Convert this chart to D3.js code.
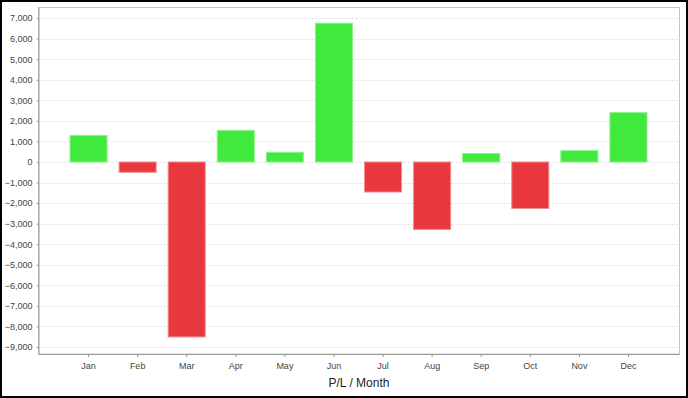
<!DOCTYPE html>
<html>
<head>
<meta charset="utf-8">
<script src="https://cdn.jsdelivr.net/npm/d3@7"></script>
<style>
  body { margin: 0; background: #fff; }
  svg { display: block; font-family: "Liberation Sans", Arial, sans-serif; }
</style>
</head>
<body>
<svg></svg>
<script>
var months = ["Jan", "Feb", "Mar", "Apr", "May", "Jun",
              "Jul", "Aug", "Sep", "Oct", "Nov", "Dec"];
var profit = [1290, -500, -8510, 1540, 470, 6750,
              -1460, -3280, 410, -2260, 555, 2400];
var yTicks = [7000, 6000, 5000, 4000, 3000, 2000, 1000, 0,
              -1000, -2000, -3000, -4000, -5000, -6000, -7000, -8000, -9000];
var yExtent = [-9340, 7515];

// plot area (window.top is reserved, so no bare "top")
var w = 688,
    h = 398,
    plotLeft = 38.5,
    plotRight = 679.5,
    plotTop = 7.5,
    plotBottom = 354;

var svg = d3.select("svg")
    .attr("width", w)
    .attr("height", h);

// outer frame
svg.append("rect")
    .attr("x", 1).attr("y", 1)
    .attr("width", w - 2).attr("height", h - 2)
    .attr("fill", "#fff")
    .attr("stroke", "#000")
    .attr("stroke-width", 2);

var x = d3.scaleBand()
    .domain(months)
    .range([plotLeft + 25.5, plotRight - 26.5])
    .paddingInner(0.245)
    .paddingOuter(0.1225);

var y = d3.scaleLinear()
    .domain(yExtent)
    .range([plotBottom, plotTop]);

// plot border
svg.append("rect")
    .attr("x", plotLeft).attr("y", plotTop)
    .attr("width", plotRight - plotLeft).attr("height", plotBottom - plotTop)
    .attr("fill", "none")
    .attr("stroke", "#c4c4c4");

// grid
svg.append("g")
    .selectAll("line")
    .data(yTicks)
    .enter()
    .append("line")
    .attr("x1", plotLeft + 1)
    .attr("x2", plotRight - 1)
    .attr("y1", function(d) { return Math.round(y(d)) + 0.5; })
    .attr("y2", function(d) { return Math.round(y(d)) + 0.5; })
    .attr("stroke", "#dcdcdc")
    .attr("stroke-dasharray", "2,2");

// bars
svg.append("g")
    .selectAll("rect")
    .data(profit)
    .enter()
    .append("rect")
    .attr("x", function(d, i) { return x(months[i]); })
    .attr("y", function(d) { return y(Math.max(0, d)); })
    .attr("width", x.bandwidth())
    .attr("height", function(d) { return Math.abs(y(d) - y(0)); })
    .attr("fill", function(d) { return d >= 0 ? "#3fea3c" : "#e9383d"; })
    .attr("stroke", function(d) { return d >= 0 ? "#8ef08c" : "#f08d90"; })
    .attr("stroke-width", 1);

// y axis
var yAxis = svg.append("g")
    .attr("transform", "translate(" + plotLeft + ",0)")
    .call(d3.axisLeft(y)
        .tickValues(yTicks)
        .tickSize(2)
        .tickPadding(4)
        .tickFormat(d3.format(",")));
yAxis.select(".domain").attr("stroke", "#999").attr("d", "M0.5," + plotTop + "V" + plotBottom);
yAxis.selectAll(".tick line").attr("stroke", "#999");
yAxis.selectAll("text")
    .attr("font-size", "9px")
    .attr("fill", "#444")
    .attr("font-family", "Liberation Sans, Arial, sans-serif");

// x axis
var xAxis = svg.append("g")
    .attr("transform", "translate(0," + plotBottom + ")")
    .call(d3.axisBottom(x).tickSize(3).tickPadding(6));
xAxis.select(".domain").attr("stroke", "#999").attr("d", "M" + plotLeft + ",0.5H" + plotRight);
xAxis.selectAll(".tick line").attr("stroke", "#999");
xAxis.selectAll("text")
    .attr("font-size", "9px")
    .attr("fill", "#444")
    .attr("font-family", "Liberation Sans, Arial, sans-serif");

svg.append("text")
    .text("P/L / Month")
    .attr("x", (plotLeft + plotRight) / 2)
    .attr("y", 387)
    .attr("text-anchor", "middle")
    .attr("font-size", "12px")
    .attr("fill", "#222");
</script>
</body>
</html>
